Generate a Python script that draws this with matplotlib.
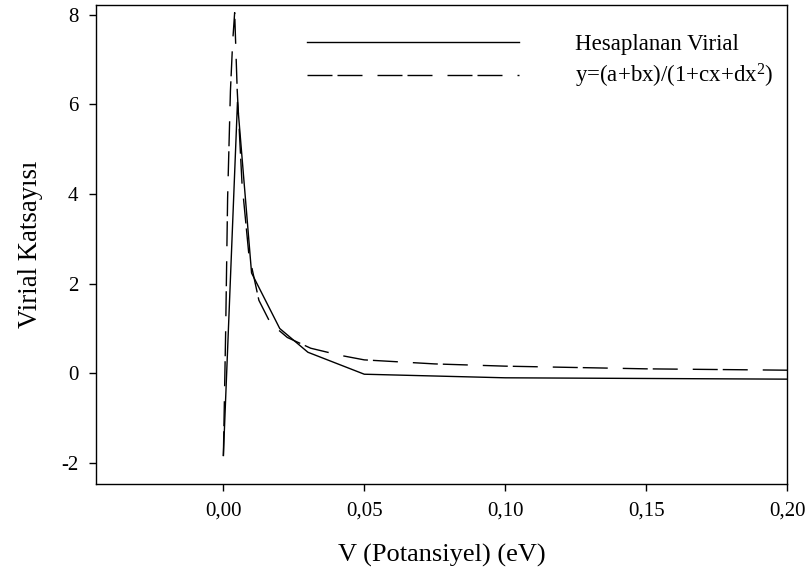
import numpy as np
import matplotlib.pyplot as plt

plt.rcParams['font.family'] = ['Liberation Serif', 'DejaVu Serif']
plt.rcParams['mathtext.fontset'] = 'custom'
plt.rcParams['mathtext.rm'] = 'Liberation Serif'

# Hesaplanan Virial (solid)
v_calc = [0.0, 0.005, 0.010, 0.020, 0.030, 0.050, 0.100, 0.200]
b_calc = [-1.83, 6.05, 2.24, 1.00, 0.47, -0.02, -0.10, -0.13]

# fit y=(a+bx)/(1+cx+dx^2) (dashed)
v_fit = [0.0, 0.0008, 0.0015, 0.0025, 0.0033, 0.0040, 0.0049, 0.0066, 0.0090,
         0.0126, 0.0167, 0.0227, 0.0310, 0.0416, 0.050, 0.075, 0.100, 0.150, 0.200]
b_fit = [-1.85, 0.9, 3.9, 6.3, 7.4, 8.05, 6.33, 4.25, 2.68,
         1.63, 1.12, 0.80, 0.56, 0.40, 0.30, 0.21, 0.16, 0.10, 0.07]

xticks = [0.00, 0.05, 0.10, 0.15, 0.20]
yticks = [-2, 0, 2, 4, 6, 8]

fig = plt.figure(figsize=(8.1, 5.8), dpi=100)
ax = fig.add_axes([96/810, 1-484/580, (787-96)/810, (484-5)/580])

ax.plot(v_calc, b_calc, color='black', lw=1.0, label='Hesaplanan Virial')
ax.plot(v_fit, b_fit, color='black', lw=1.0, dashes=(18, 3.6, 18, 10.8),
        label='y=(a+bx)/(1+cx+dx$\\mathrm{^2}$)')

ax.set_xlim(-0.0452, 0.20)
ax.set_ylim(-2.47, 8.22)
ax.set_xticks(xticks)
ax.set_xticklabels([('%.2f' % t).replace('.', ',') for t in xticks])
ax.set_yticks(yticks)
ax.set_yticklabels([str(t) for t in yticks])
ax.tick_params(direction='out', length=4.8, width=1, labelsize=15, pad=8)
for s in ax.spines.values():
    s.set_linewidth(1.0)

ax.set_xlabel('V (Potansiyel) (eV)', fontsize=19, labelpad=17)
ax.set_ylabel('Virial Katsayısı', fontsize=19.3, labelpad=13)

leg = ax.legend(loc='upper left', bbox_to_anchor=(0.2755, 0.982), frameon=False,
                fontsize=16.5, handlelength=9.25, handletextpad=2.45, labelspacing=0.3)

fig.savefig('out.png', dpi=100)
